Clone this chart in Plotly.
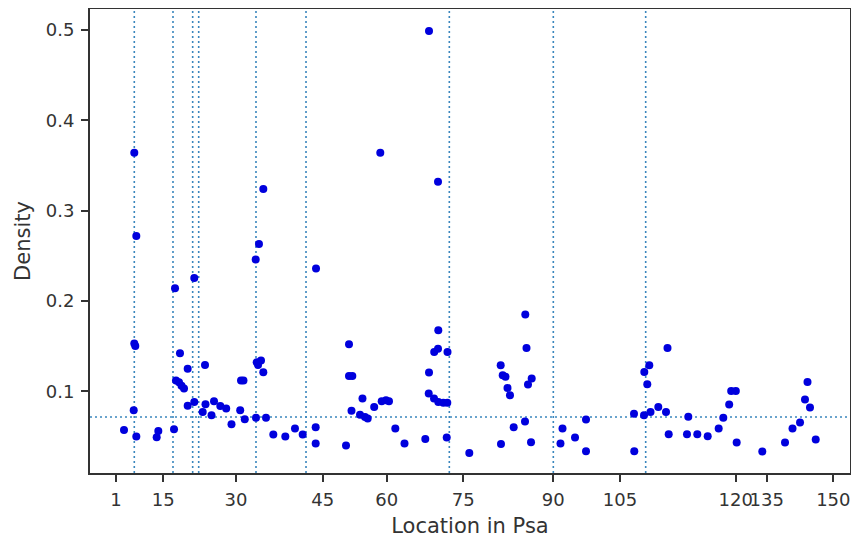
import plotly.graph_objects as go

# Scatter data: location (axis units) and density
loc = [2.66, 4.80, 5.22, 4.80, 5.01, 4.68, 5.22, 9.79, 9.45, 13.05,
       13.26, 14.29, 13.46, 14.09, 14.61, 15.13, 15.89, 15.89, 17.26, 17.26,
       19.01, 19.49, 19.59, 20.84, 21.36, 22.67, 23.89, 24.99, 26.80, 26.97,
       27.48, 27.75, 30.08, 30.02, 30.70, 31.60, 30.23, 31.12, 30.50, 31.60,
       32.16, 33.68, 36.17, 38.18, 39.78, 42.48, 42.48, 42.55, 48.78, 49.40,
       49.40, 50.09, 49.92, 52.20, 51.69, 52.72, 53.28, 54.63, 56.19, 57.09,
       57.71, 55.90, 59.02, 60.93, 65.25, 66.02, 66.02, 65.96, 67.06, 67.10,
       67.89, 67.95, 67.89, 67.95, 68.99, 69.82, 69.86, 69.70, 74.39, 80.91,
       81.33, 81.91, 82.32, 82.84, 83.61, 80.97, 86.02, 86.27, 85.96, 86.58,
       87.35, 87.21, 93.33, 93.75, 96.35, 98.63, 98.63, 108.66, 108.60, 110.68,
       111.78, 110.74, 111.36, 112.03, 113.65, 115.25, 115.56, 115.81, 119.88, 119.61,
       121.75, 123.91, 126.19, 127.15, 128.37, 128.79, 129.75, 129.93, 135.25, 139.97,
       141.53, 143.09, 144.12, 144.64, 145.16, 146.35]
density = [0.057, 0.364, 0.272, 0.153, 0.150, 0.079, 0.050, 0.056, 0.049, 0.058,
           0.214, 0.142, 0.112, 0.110, 0.106, 0.103, 0.125, 0.084, 0.2255, 0.088,
           0.077, 0.129, 0.0855, 0.0735, 0.089, 0.0837, 0.081, 0.0634, 0.079, 0.112,
           0.112, 0.069, 0.0707, 0.246, 0.263, 0.324, 0.132, 0.134, 0.129, 0.121,
           0.0707, 0.052, 0.050, 0.0587, 0.052, 0.060, 0.042, 0.236, 0.040, 0.152,
           0.117, 0.117, 0.0785, 0.092, 0.074, 0.0715, 0.0697, 0.0826, 0.089, 0.090,
           0.089, 0.364, 0.0587, 0.042, 0.047, 0.499, 0.1207, 0.0975, 0.092, 0.1436,
           0.147, 0.1676, 0.332, 0.088, 0.0872, 0.0872, 0.1436, 0.0487, 0.0316, 0.1288,
           0.1177, 0.116, 0.1037, 0.0956, 0.060, 0.0415, 0.185, 0.148, 0.0665, 0.1074,
           0.114, 0.0435, 0.042, 0.0587, 0.0487, 0.0686, 0.0335, 0.0335, 0.075, 0.0734,
           0.1288, 0.1214, 0.1078, 0.077, 0.0826, 0.077, 0.148, 0.0524, 0.0718, 0.0524,
           0.0524, 0.0501, 0.0587, 0.0707, 0.0853, 0.1003, 0.1003, 0.0432, 0.0333, 0.0432,
           0.0587, 0.0653, 0.0908, 0.1103, 0.082, 0.0465]

# Reference lines
vline_locs = [4.80, 12.84, 16.93, 18.18, 30.08, 40.47, 70.24, 91.84, 111.03]
hline_density = 0.0715

# Tick positions and labels on the x axis
xtick_vals = [1, 10.83, 25.93, 43.94, 57.23, 73.14, 91.84, 105.69, 129.73, 136.17, 150]
xtick_text = ["1", "15", "30", "45", "60", "75", "90", "105", "120", "135", "150"]
ytick_vals = [0.1, 0.2, 0.3, 0.4, 0.5]
ytick_text = ["0.1", "0.2", "0.3", "0.4", "0.5"]

fig = go.Figure()

line_style = dict(color="#3a86bd", width=1.6, dash="2px,3px")
for xv in vline_locs:
    fig.add_vline(x=xv, line=line_style, layer="below")
fig.add_hline(y=hline_density, line=line_style, layer="below")

fig.add_trace(go.Scatter(
    x=loc, y=density, mode="markers",
    marker=dict(color="#0000dd", size=8, line=dict(width=0)),
    showlegend=False,
))

font = "DejaVu Sans, sans-serif"
fig.update_layout(
    width=851, height=530,
    margin=dict(l=82, r=9, t=1, b=65, autoexpand=False),
    paper_bgcolor="white", plot_bgcolor="white",
    font=dict(family=font, size=18, color="#333333"),
    xaxis=dict(
        range=[-4.40, 153.47], tickmode="array",
        tickvals=xtick_vals, ticktext=xtick_text, tickangle=0,
        ticks="outside", ticklen=7, tickwidth=1.5, tickcolor="#333333",
        ticklabelstandoff=2,
        showgrid=False, zeroline=False, automargin=False,
        showline=True, linecolor="#333333", linewidth=1.8, mirror=True,
        title=dict(text="Location in Psa", font=dict(size=21), standoff=10),
        tickfont=dict(size=18),
    ),
    yaxis=dict(
        range=[0.00947, 0.5233], tickmode="array",
        tickvals=ytick_vals, ticktext=ytick_text,
        ticks="outside", ticklen=7, tickwidth=1.5, tickcolor="#333333",
        ticklabelstandoff=3,
        showgrid=False, zeroline=False, automargin=False,
        showline=True, linecolor="#333333", linewidth=1.8, mirror=True,
        title=dict(text="Density", font=dict(size=21), standoff=10),
        tickfont=dict(size=18),
    ),
)

fig.write_html("out.html")
